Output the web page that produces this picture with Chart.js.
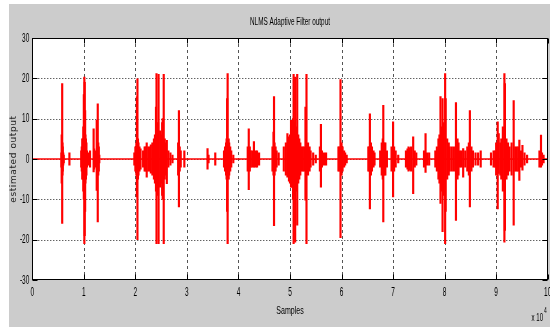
<!DOCTYPE html>
<html>
<head>
<meta charset="utf-8">
<script src="https://cdn.jsdelivr.net/npm/chart.js@4/dist/chart.umd.min.js"></script>
<style>
html,body{margin:0;padding:0;background:#fff;}
canvas{display:block;}
</style>
</head>
<body>
<canvas id="c" width="550" height="329"></canvas>
<script>
// Burst positions (samples, in units of 10^4) and the local min / max of the filter output there
const spikeX = [
  0.565, 0.57, 0.58, 0.585, 0.59, 0.6, 0.61, 0.72,
  0.95, 0.96, 0.97, 0.98, 0.99, 1.0, 1.01, 1.017, 1.025, 1.03, 1.04, 1.05, 1.06, 1.08,
  1.12, 1.19, 1.2, 1.22,
  1.25, 1.27, 1.28, 1.29, 1.3,
  1.98, 2.0, 2.02, 2.03, 2.04, 2.05, 2.06, 2.08, 2.1,
  2.15, 2.18, 2.2, 2.22, 2.25, 2.28, 2.3, 2.33, 2.36, 2.38, 2.4, 2.41, 2.43, 2.44, 2.45, 2.48, 2.5, 2.52, 2.53, 2.55, 2.57, 2.59, 2.61, 2.64, 2.68, 2.72,
  2.83, 2.845, 2.86, 2.88, 2.95,
  3.4, 3.42, 3.55,
  3.72, 3.74, 3.76, 3.77, 3.78, 3.79, 3.81, 3.82, 3.84, 3.86, 3.9,
  4.18, 4.2, 4.22, 4.24, 4.27, 4.3, 4.33, 4.36, 4.4,
  4.66, 4.68, 4.69, 4.7, 4.72, 4.74, 4.78,
  4.88, 4.92, 4.95, 4.98, 5.0, 5.02, 5.04, 5.06, 5.07, 5.09, 5.1, 5.12, 5.14, 5.16, 5.18, 5.2, 5.22, 5.25, 5.28, 5.3, 5.32, 5.35, 5.38, 5.4, 5.45, 5.5,
  5.58, 5.6, 5.62, 5.66, 5.7,
  5.94, 5.96, 5.98, 6.0, 6.02, 6.05, 6.07, 6.1,
  6.52, 6.54, 6.55, 6.57, 6.59, 6.62, 6.64,
  6.75, 6.78, 6.8, 6.81, 6.83, 6.85, 6.88,
  6.97, 7.0, 7.02, 7.05, 7.1,
  7.25, 7.28, 7.3, 7.32, 7.35, 7.39, 7.42, 7.45,
  7.6, 7.63, 7.66, 7.7,
  7.82, 7.85, 7.88, 7.9, 7.92, 7.94, 7.96, 7.98, 8.01, 8.02, 8.05, 8.08, 8.1, 8.14, 8.18, 8.22, 8.25, 8.27, 8.3, 8.33, 8.36, 8.4, 8.44, 8.47, 8.49, 8.52, 8.55, 8.6, 8.65, 8.7,
  8.9, 8.95, 8.98, 9.0, 9.03, 9.05, 9.08, 9.1, 9.13, 9.16, 9.17, 9.2, 9.23, 9.26, 9.3, 9.34, 9.37, 9.4, 9.43, 9.45, 9.48, 9.51, 9.55, 9.6,
  9.84, 9.87, 9.89, 9.92
];
const spikeHigh = [
  1.5, 6, 18.7, 4, 3, 1.5, 1, 1.5,
  2, 3, 5, 5, 8, 16, 20.3, 19, 12, 6, 5, 4, 2, 1.5,
  2, 7.5, 2.5, 2,
  9.6, 13.7, 4, 3, 1,
  1.5, 3, 4, 15.4, 19.9, 5, 4, 3, 2.5,
  2, 3, 3, 4, 3, 3, 3.5, 4, 5, 6, 12.9, 21.2, 8, 9, 21, 7, 6, 9, 10, 21, 5, 4, 4.6, 2, 1.5, 1,
  4, 12, 3, 2, 2,
  2.6, 1, 1.5,
  2, 3, 4, 5, 15, 21.2, 5, 4, 3, 2, 1,
  3, 7.5, 3, 2, 2, 4.3, 2, 2, 1.5,
  3, 6.7, 15.5, 4, 3, 2, 1.5,
  3, 4, 6.3, 5.5, 6, 9.6, 7, 10, 21, 9, 20.3, 8, 21, 6, 5, 4, 3, 3, 3, 12.9, 21, 4, 3, 2, 1.5, 1,
  3, 8.6, 2, 1.5, 1.5,
  3, 3, 19.7, 4, 3, 2, 1.5, 1,
  3, 3, 11.2, 4, 3, 2, 1.5,
  2, 4, 5, 13.3, 4, 4, 2,
  3, 9.2, 3, 2, 1,
  2, 2.5, 3, 2.8, 3, 5.5, 2, 1.5,
  2, 6.3, 1.5, 1.5,
  2, 3, 5, 6, 15.5, 8, 15, 9, 21.2, 15, 5, 4, 3, 3, 3, 14, 5, 4, 2, 2, 2.6, 2, 3, 4, 12, 3, 2, 1.5, 1.5, 2,
  1.5, 2, 2, 4, 9.2, 6.3, 4, 5, 8, 21.2, 18.7, 5, 4, 3, 4, 14.5, 3, 3, 3, 4.7, 2, 3.4, 1.5, 1,
  2, 5.9, 1.5, 1
];
const spikeLow = [
  -2, -6, -16, -4, -3, -1.5, -1, -1.5,
  -2, -3, -5, -5, -8, -10, -21, -19, -13, -6, -5, -4, -2, -1.5,
  -2, -3.2, -2.5, -2,
  -7.8, -15.6, -4, -3, -1,
  -1.5, -3, -4, -9.4, -20, -5, -4, -3, -2.5,
  -2, -3, -3, -4.5, -3, -3, -3.5, -4, -5, -6, -8, -21, -8, -9, -21, -7, -6, -9, -10, -21, -5, -4, -6.1, -2, -1.5, -1,
  -4, -11.9, -3, -2, -2,
  -2.5, -1, -1.5,
  -2, -3, -4, -5, -13, -21, -5, -4, -3, -2, -1,
  -3, -7.6, -3, -2, -2, -2, -2, -2, -1.5,
  -3, -4, -16.5, -4, -3, -2, -1.5,
  -3, -4, -4.5, -5.5, -6, -7, -7, -10, -21, -9, -20.6, -8, -16.4, -6, -5, -4, -3, -3, -3, -10.2, -21, -4, -3, -2, -1.5, -1,
  -3, -7, -2, -1.5, -1.5,
  -3, -3, -19.5, -4, -3, -2, -1.5, -1,
  -3, -3, -12.4, -4, -3, -2, -1.5,
  -2, -4, -5, -15.6, -4, -4, -2,
  -3, -9.4, -3, -2, -1,
  -2, -2.5, -3, -2.8, -3, -8.6, -2, -1.5,
  -2, -3.3, -1.5, -1.5,
  -2, -3, -5, -6, -11, -8, -18, -9, -21, -13, -5, -4, -3, -3, -3, -15.2, -5, -4, -2, -2, -4.5, -2, -3, -4, -11.9, -3, -2, -1.5, -1.5, -2,
  -1.5, -2, -2, -4, -12.4, -3.6, -4, -5, -8, -20.6, -17.7, -5, -4, -3, -4, -16.4, -3, -3, -3, -5.3, -2, -2.8, -1.5, -1,
  -2, -2, -1.5, -1
];
// quiet baseline of the output between bursts
const baselineX = [0, 10];
const baselineY = [0, 0];

const xTickValues = [0,1,2,3,4,5,6,7,8,9,10];
const yTickValues = [-30,-20,-10,0,10,20,30];
const titleText = 'NLMS Adaptive Filter output';
const xAxisTitle = 'Samples';
const yAxisTitle = 'estimated output';
const xMultiplier = 'x 10';
const xMultiplierExp = '4';

const FONT = '"Liberation Sans", Arial, sans-serif';

function condensedText(ctx, text, x, y, size, sx, align) {
  ctx.save();
  ctx.font = size + 'px ' + FONT;
  ctx.textBaseline = 'middle';
  ctx.textAlign = align;
  ctx.translate(x, y);
  ctx.scale(sx, 1);
  ctx.fillText(text, 0, 0);
  ctx.restore();
}

const matlabPlugin = {
  id: 'matlab',
  beforeDraw(chart) {
    const ctx = chart.ctx;
    const a = chart.chartArea;
    ctx.save();
    ctx.fillStyle = '#ffffff';
    ctx.fillRect(0, 0, chart.width, chart.height);
    ctx.fillStyle = '#cccccc';
    ctx.fillRect(9, 4, chart.width - 9, 323);
    ctx.fillStyle = '#ffffff';
    ctx.fillRect(a.left, a.top, a.right - a.left, a.bottom - a.top);
    ctx.restore();
  },
  beforeDatasetsDraw(chart) {
    const ctx = chart.ctx;
    const a = chart.chartArea;
    const xs = chart.scales.x, ys = chart.scales.y;
    ctx.save();
    ctx.lineWidth = 1;
    ctx.strokeStyle = '#555555';
    ctx.setLineDash([3, 3]);
    xTickValues.forEach(v => {
      if (v === 0 || v === 10) return;
      const px = Math.round(xs.getPixelForValue(v)) + 0.5;
      ctx.beginPath(); ctx.moveTo(px, a.top); ctx.lineTo(px, a.bottom); ctx.stroke();
    });
    ctx.strokeStyle = '#222222';
    ctx.setLineDash([1, 2]);
    yTickValues.forEach(v => {
      if (v === 30 || v === -30) return;
      const py = Math.round(ys.getPixelForValue(v)) + 0.5;
      ctx.beginPath(); ctx.moveTo(a.left, py); ctx.lineTo(a.right, py); ctx.stroke();
    });
    ctx.restore();
  },
  afterDatasetsDraw(chart) {
    const ctx = chart.ctx;
    const a = chart.chartArea;
    const xs = chart.scales.x, ys = chart.scales.y;
    ctx.save();
    ctx.setLineDash([]);
    ctx.strokeStyle = '#000000';
    ctx.lineWidth = 1;
    const L = Math.round(a.left) + 0.5, R = Math.round(a.right) - 0.5;
    const T = Math.round(a.top) + 0.5, B = Math.round(a.bottom) - 0.5;
    ctx.strokeRect(L, T, R - L, B - T);
    const tl = 5;
    ctx.beginPath();
    xTickValues.forEach(v => {
      const px = Math.round(xs.getPixelForValue(v)) + 0.5;
      ctx.moveTo(px, B); ctx.lineTo(px, B - tl);
      ctx.moveTo(px, T); ctx.lineTo(px, T + tl);
    });
    yTickValues.forEach(v => {
      const py = Math.round(ys.getPixelForValue(v)) + 0.5;
      ctx.moveTo(L, py); ctx.lineTo(L + tl, py);
      ctx.moveTo(R, py); ctx.lineTo(R - tl, py);
    });
    ctx.stroke();
    ctx.fillStyle = '#000000';
    xTickValues.forEach(v => {
      condensedText(ctx, String(v), xs.getPixelForValue(v), 292.5, 13, 0.5, 'center');
    });
    yTickValues.forEach(v => {
      condensedText(ctx, String(v), a.left - 3, ys.getPixelForValue(v), 13, 0.5, 'right');
    });
    const cx = (a.left + a.right) / 2;
    condensedText(ctx, titleText, cx, 22, 10, 0.64, 'center');
    condensedText(ctx, xAxisTitle, cx, 310.5, 11, 0.64, 'center');
    condensedText(ctx, xMultiplier, 543, 318, 11, 0.55, 'right');
    condensedText(ctx, xMultiplierExp, 544, 311, 9, 0.55, 'left');
    ctx.save();
    ctx.translate(14, (a.top + a.bottom) / 2);
    ctx.rotate(-Math.PI / 2);
    ctx.font = '9px "DejaVu Sans", sans-serif';
    try { ctx.letterSpacing = '0.6px'; } catch (e) {}
    ctx.textAlign = 'center';
    ctx.textBaseline = 'middle';
    ctx.fillStyle = '#222222';
    ctx.fillText(yAxisTitle, 0, 0);
    ctx.restore();
    ctx.restore();
  }
};

new Chart(document.getElementById('c'), {
  type: 'bar',
  data: {
    datasets: [{
      type: 'line',
      data: baselineX.map((x, i) => ({ x: x, y: baselineY[i] })),
      borderColor: '#ff0000',
      borderWidth: 1.6,
      pointRadius: 0
    }, {
      type: 'bar',
      data: spikeX.map((x, i) => ({ x: x, y: [spikeLow[i], spikeHigh[i]] })),
      backgroundColor: '#ff0000',
      borderWidth: 0,
      barThickness: 1.5,
      grouped: false
    }]
  },
  options: {
    responsive: false,
    animation: false,
    events: [],
    layout: { padding: { left: 0, right: 2.3, top: 38, bottom: 0 } },
    plugins: { legend: { display: false }, tooltip: { enabled: false }, title: { display: false } },
    scales: {
      x: {
        type: 'linear', min: 0, max: 10, offset: false,
        afterFit: s => { s.height = 49; },
        grid: { display: false, drawTicks: false },
        border: { display: false },
        ticks: { display: false }
      },
      y: {
        type: 'linear', min: -30, max: 30,
        afterFit: s => { s.width = 32.3; },
        grid: { display: false, drawTicks: false },
        border: { display: false },
        ticks: { display: false }
      }
    }
  },
  plugins: [matlabPlugin]
});
</script>
</body>
</html>
